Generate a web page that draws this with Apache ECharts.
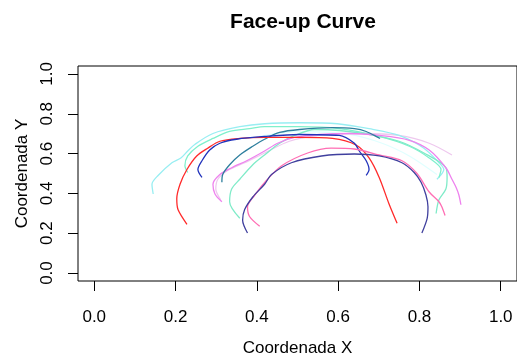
<!DOCTYPE html>
<html>
<head>
<meta charset="utf-8">
<script src="https://cdn.jsdelivr.net/npm/echarts@6/dist/echarts.min.js"></script>
<style>
  html, body { margin: 0; padding: 0; background: #fff; }
  #main { width: 517px; height: 362px; }
</style>
</head>
<body>
<div id="main"></div>
<script>
// tick values of both axes
var xTicks = [0, 0.2, 0.4, 0.6, 0.8, 1.0];
var yTicks = [0, 0.2, 0.4, 0.6, 0.8, 1.0];

// curves, [x, y]
var redCurve = [[0.228,0.245],[0.206,0.319],[0.203,0.373],[0.211,0.446],[0.228,0.520],[0.252,0.588],[0.279,0.627],[0.309,0.662],[0.358,0.676],[0.419,0.681],[0.505,0.681],[0.586,0.676],[0.645,0.642],[0.676,0.578],[0.701,0.480],[0.725,0.348],[0.745,0.250]];
var blueCurve = [[0.265,0.480],[0.255,0.520],[0.265,0.564],[0.284,0.618],[0.309,0.652],[0.350,0.672],[0.419,0.686],[0.505,0.696],[0.603,0.691],[0.640,0.652],[0.652,0.613],[0.669,0.564],[0.676,0.520],[0.669,0.490]];
var tealCurve = [[0.314,0.456],[0.316,0.495],[0.333,0.544],[0.358,0.593],[0.390,0.637],[0.419,0.672],[0.456,0.706],[0.505,0.721],[0.586,0.730],[0.640,0.725],[0.669,0.711],[0.703,0.676]];
var cyanCurve = [[0.145,0.397],[0.142,0.446],[0.157,0.490],[0.191,0.554],[0.213,0.578],[0.230,0.613],[0.248,0.647],[0.292,0.701],[0.358,0.735],[0.419,0.750],[0.505,0.755],[0.598,0.750],[0.676,0.725],[0.750,0.691],[0.811,0.627],[0.848,0.554],[0.860,0.520],[0.843,0.471]];
var aquaCurve1 = [[0.230,0.505],[0.223,0.539],[0.230,0.588],[0.255,0.637],[0.292,0.676],[0.333,0.711],[0.382,0.725],[0.419,0.735],[0.505,0.735],[0.603,0.725],[0.701,0.686],[0.775,0.637],[0.824,0.578],[0.853,0.520],[0.848,0.480]];
var aquaCurve2 = [[0.358,0.275],[0.333,0.358],[0.338,0.422],[0.358,0.471],[0.390,0.544],[0.419,0.593],[0.456,0.652],[0.493,0.691],[0.542,0.721],[0.603,0.716],[0.676,0.696],[0.750,0.662],[0.811,0.603],[0.865,0.529],[0.868,0.480],[0.865,0.422],[0.848,0.368],[0.841,0.299]];
var violetCurve = [[0.314,0.358],[0.297,0.397],[0.292,0.446],[0.309,0.495],[0.338,0.529],[0.375,0.564],[0.419,0.613],[0.451,0.652],[0.493,0.681],[0.554,0.696],[0.627,0.701],[0.701,0.691],[0.775,0.667],[0.824,0.618],[0.865,0.529],[0.880,0.471],[0.890,0.431],[0.897,0.392],[0.902,0.343]];
var thistleCurve = [[0.311,0.368],[0.299,0.422],[0.304,0.471],[0.328,0.515],[0.370,0.554],[0.419,0.603],[0.480,0.662],[0.554,0.691],[0.652,0.701],[0.750,0.691],[0.824,0.652],[0.880,0.593]];
var navyCurve = [[0.377,0.201],[0.365,0.265],[0.370,0.319],[0.390,0.382],[0.419,0.446],[0.436,0.495],[0.485,0.554],[0.559,0.588],[0.640,0.598],[0.701,0.588],[0.757,0.554],[0.787,0.505],[0.804,0.456],[0.816,0.392],[0.821,0.333],[0.819,0.275],[0.806,0.201]];
var pinkCurve = [[0.407,0.235],[0.382,0.284],[0.377,0.333],[0.395,0.392],[0.424,0.466],[0.461,0.539],[0.525,0.603],[0.583,0.627],[0.640,0.623],[0.701,0.593],[0.757,0.564],[0.794,0.500],[0.824,0.407],[0.848,0.358],[0.855,0.333],[0.863,0.289]];
var paleCurve = [[0.407,0.686],[0.505,0.711],[0.627,0.696],[0.708,0.652],[0.775,0.588],[0.843,0.495]];

var myChart = echarts.init(document.getElementById('main'));
var font = 'Liberation Sans, Arial, sans-serif';

function curve(data, color) {
  return {
    type: 'line',
    data: data,
    showSymbol: false,
    smooth: 0.3,
    silent: true,
    lineStyle: { color: color, width: 1.3 }
  };
}

var option = {
  animation: false,
  title: {
    text: 'Face-up Curve',
    left: 298,
    top: 7,
    textAlign: 'center',
    textStyle: { fontFamily: font, fontSize: 21, fontWeight: 'bold', color: '#000' }
  },
  grid: {
    left: 78, top: 66, width: 440, height: 220,
    show: true, borderColor: '#000', borderWidth: 1
  },
  xAxis: {
    type: 'value', min: -0.04, max: 1.04,
    name: 'Coordenada X', nameLocation: 'middle', nameGap: 59,
    nameTextStyle: { fontFamily: font, fontSize: 17, color: '#000' },
    axisLine: { show: false, onZero: false },
    splitLine: { show: false },
    axisTick: { show: true, customValues: xTicks, length: 10, lineStyle: { color: '#000' } },
    axisLabel: {
      customValues: xTicks, margin: 28,
      fontFamily: font, fontSize: 17, color: '#000',
      formatter: function (v) { return v.toFixed(1); }
    }
  },
  yAxis: {
    type: 'value', min: -0.04, max: 1.04,
    name: 'Coordenada Y', nameLocation: 'middle', nameGap: 46, nameRotate: 90,
    nameTextStyle: { fontFamily: font, fontSize: 17, color: '#000' },
    axisLine: { show: false, onZero: false },
    splitLine: { show: false },
    axisTick: { show: true, customValues: yTicks, length: 10, lineStyle: { color: '#000' } },
    axisLabel: {
      customValues: yTicks, margin: 22, rotate: 90,
      fontFamily: font, fontSize: 17, color: '#000',
      formatter: function (v) { return v.toFixed(1); }
    }
  },
  series: [
    curve(paleCurve, '#E0FFFF'),
    curve(thistleCurve, '#EEC8EE'),
    curve(cyanCurve, '#98EEF2'),
    curve(aquaCurve1, '#7FF0CC'),
    curve(aquaCurve2, '#7FEBC8'),
    curve(violetCurve, '#EE82EE'),
    curve(tealCurve, '#2E7F9E'),
    curve(redCurve, '#FF2A2A'),
    curve(blueCurve, '#2233BB'),
    curve(pinkCurve, '#FF6EB4'),
    curve(navyCurve, '#40409E')
  ]
};

myChart.setOption(option);
</script>
</body>
</html>
